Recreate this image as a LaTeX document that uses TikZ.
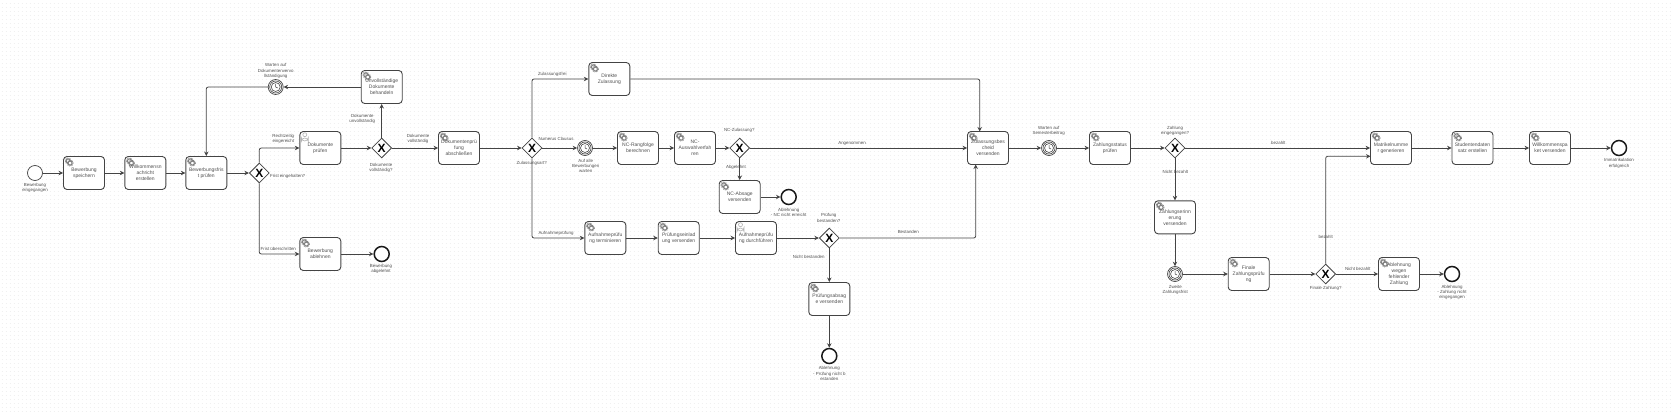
\documentclass[tikz,border=0pt]{standalone}
\usepackage{fontspec}
\setmainfont{Liberation Sans}
\usetikzlibrary{arrows.meta,shapes.geometric}
\definecolor{ink}{HTML}{444444}
\definecolor{word}{HTML}{505050}
\newcommand{\tasktext}{\fontsize{5pt}{6pt}\selectfont}
\newcommand{\labeltext}{\fontsize{4.4pt}{5.3pt}\selectfont}
\tikzstyle{griddot}=[black!6, line width=0.8pt, dash pattern=on 0.8pt off 3.2pt]
\tikzstyle{flow}=[draw=ink, line width=0.8pt, rounded corners=2pt, -{Stealth[length=4.5pt, width=4.5pt]}]
\tikzstyle{Task}=[rectangle, rounded corners=3.5pt, minimum width=41, minimum height=33, inner sep=0, align=center, draw=ink, line width=0.9pt, fill=white, text=word, font=\tasktext]
\tikzstyle{Service}=[Task, path picture={
    \foreach \gx/\gy in {4.6/4.4, 6.6/6.6} {
      \draw[gray, fill=white, line width=1pt] ([shift={(\gx,\gy)}]path picture bounding box.north west) circle (2);
      \draw[gray, line width=0.8pt, dash pattern=on 0.8pt off 0.8pt] ([shift={(\gx,\gy)}]path picture bounding box.north west) circle (3);
    }}]
\tikzstyle{User}=[Task, path picture={
    \draw[black!30, line width=0.6pt] ([shift={(5,3.2)}]path picture bounding box.north west) circle (2);
    \draw[black!30, line width=0.6pt] ([shift={(1.5,9.5)}]path picture bounding box.north west) -- ++(0,-3) -- ++(7,0) -- ++(0,3) -- cycle;
    }]
\tikzstyle{Gateway}=[diamond, aspect=1, minimum size=20, inner sep=0, draw=ink, line width=0.8pt, fill=white, font=\fontsize{12pt}{12pt}\selectfont\bfseries]
\tikzstyle{StartEv}=[circle, minimum size=15, inner sep=0, draw=ink, line width=0.7pt, fill=white]
\tikzstyle{EndEv}=[circle, minimum size=15, inner sep=0, draw=black!90, line width=1.5pt, fill=white]
\tikzstyle{Timer}=[circle, minimum size=15, inner sep=0, draw=ink, line width=0.7pt, fill=white, path picture={
    \draw[ink, line width=0.6pt] (path picture bounding box.center) circle (6);
    \draw[ink, line width=0.6pt] (path picture bounding box.center) circle (4.5);
    \draw[ink, line width=0.5pt] ([shift={(0,-3)}]path picture bounding box.center) -- (path picture bounding box.center) -- ++(2,1);
    }]
\tikzstyle{lab}=[inner sep=0, align=center, text=word, font=\labeltext]
\begin{document}
\begin{tikzpicture}[x=1pt, y=-1pt]
    \useasboundingbox (0,0) rectangle (1672,417);
    \foreach \gy in {3.5,7.5,...,415} {
      \draw[griddot] (1.6,\gy) -- (1672,\gy);
    }
    \path
    (35,173) node[StartEv] (start) {}
    (84,173) node[Service] (save) {Bewerbung\\speichern}
    (145.3,173) node[Service] (welcome) {Willkommensn\\achricht\\erstellen}
    (206.3,173) node[Service] (deadline) {Bewerbungsfris\\t prüfen}
    (259.3,173) node[Gateway] (gwdeadline) {X}
    (320.3,148) node[User] (review) {Dokumente\\prüfen}
    (320.3,254) node[Service] (reject) {Bewerbung\\ablehnen}
    (381.7,254) node[EndEv] (endreject) {}
    (381.7,148) node[Gateway] (gwdocs) {X}
    (381.7,87) node[Service] (missing) {Unvollständige\\Dokumente\\behandeln}
    (275.7,87) node[Timer] (waitdocs) {}
    (459,148) node[Service] (finish) {Dokumentenprü\\fung\\abschließen}
    (532,148) node[Gateway] (gwtype) {X}
    (609.3,79) node[Service] (direct) {Direkte\\Zulassung}
    (585,148) node[Timer] (waitall) {}
    (638,148) node[Service] (rank) {NC-Rangfolge\\berechnen}
    (695,148) node[Service] (select) {NC-\\Auswahlverfah\\ren}
    (739.7,148) node[Gateway] (gwnc) {X}
    (739.7,197) node[Service] (ncletter) {NC-Absage\\versenden}
    (788.7,197) node[EndEv] (endnc) {}
    (605.3,238) node[Service] (schedule) {Aufnahmeprüfu\\ng terminieren}
    (678.7,238) node[Service] (invite) {Prüfungseinlad\\ung versenden}
    (756,238) node[User] (exam) {Aufnahmeprüfu\\ng durchführen}
    (829.3,238) node[Gateway] (gwexam) {X}
    (829.3,299) node[Service] (examletter) {Prüfungsabsag\\e versenden}
    (829.3,356) node[EndEv] (endexam) {}
    (988,148) node[Service] (notice) {Zulassungsbes\\cheid\\versenden}
    (1049,148) node[Timer] (waitfee) {}
    (1110,148) node[Service] (status) {Zahlungsstatus\\prüfen}
    (1175,148) node[Gateway] (gwpaid) {X}
    (1175,217.3) node[Service] (remind) {Zahlungserinn\\erung\\versenden}
    (1175,274) node[Timer] (waitsecond) {}
    (1248.7,274) node[Service] (final) {Finale\\Zahlungsprüfu\\ng}
    (1325.7,274) node[Gateway] (gwfinal) {X}
    (1399,274) node[Service] (nofee) {Ablehnung\\wegen\\fehlender\\Zahlung}
    (1452,274) node[EndEv] (endfee) {}
    (1391,148) node[Service] (matric) {Matrikelnumme\\r generieren}
    (1472.5,148) node[Service] (record) {Studentendaten\\satz erstellen}
    (1550,148) node[Service] (packet) {Willkommenspa\\ket versenden}
    (1619,148) node[EndEv] (enddone) {}
    coordinate[] (innotice) at (979.7,131.5)
    coordinate[] (inpassed) at (975.7,164.5)
    coordinate[] (inmatric) at (1370.5,156.3);

    % event and gateway captions
    \path
    (35,187.7) node[lab] (capstart) {Bewerbung\\eingegangen}
    (275.7,71) node[lab] (capwaitdocs) {Warten auf\\Dokumentenvervo\\llständigung}
    (283.3,139) node[lab] (capintime) {Rechtzeitig\\eingereicht}
    (287.7,176.3) node[lab] (capgwdeadline) {Frist eingehalten?}
    (278.3,249.3) node[lab] (caplate) {Frist überschritten}
    (362.3,119) node[lab] (capincomplete) {Dokumente\\unvollständig}
    (381,167.7) node[lab] (capgwdocs) {Dokumente\\vollständig?}
    (381,269) node[lab] (capreject) {Bewerbung\\abgelehnt}
    (418,139) node[lab] (capcomplete) {Dokumente\\vollständig}
    (552.3,74.3) node[lab] (capfree) {Zulassungsfrei}
    (556,139.3) node[lab] (capnc) {Numerus Clausus}
    (531.7,163) node[lab] (capgwtype) {Zulassungsart?}
    (585.7,166) node[lab] (capwaitall) {Auf alle\\Bewerbungen\\warten}
    (739.3,130.3) node[lab] (capgwnc) {NC-Zulassung?}
    (736,167.3) node[lab] (capdenied) {Abgelehnt}
    (852,143.3) node[lab] (capaccepted) {Angenommen}
    (556,233.3) node[lab] (capexam) {Aufnahmeprüfung}
    (788.7,212.3) node[lab] (capendnc) {Ablehnung\\- NC nicht erreicht}
    (828.7,218) node[lab] (capgwexam) {Prüfung\\bestanden?}
    (908.3,232.3) node[lab] (cappassed) {Bestanden}
    (808.7,257.3) node[lab] (capfailed) {Nicht bestanden}
    (829.3,373.7) node[lab] (capendexam) {Ablehnung\\- Prüfung nicht b\\estanden}
    (1048.7,130.7) node[lab] (capwaitfee) {Warten auf\\Semesterbeitrag}
    (1175,131) node[lab] (capgwpaid) {Zahlung\\eingegangen?}
    (1278.3,143.3) node[lab] (cappaid) {bezahlt}
    (1175.3,172) node[lab] (capunpaid) {Nicht bezahlt}
    (1175.3,289.7) node[lab] (capwaitsecond) {Zweite\\Zahlungsfrist}
    (1325.7,237.3) node[lab] (cappaidlate) {bezahlt}
    (1325.7,288.3) node[lab] (capgwfinal) {Finale Zahlung?}
    (1357.7,269.3) node[lab] (capunpaidlate) {Nicht bezahlt}
    (1619,163.3) node[lab] (capdone) {Immatrikulation\\erfolgreich}
    (1452,292.3) node[lab] (capendfee) {Ablehnung\\- Zahlung nicht\\eingegangen};

    \draw[flow] (start) -- (save);
    \draw[flow] (save) -- (welcome);
    \draw[flow] (welcome) -- (deadline);
    \draw[flow] (deadline) -- (gwdeadline);
    \draw[flow] (gwdeadline.north) |- (review.west);
    \draw[flow] (gwdeadline.south) |- (reject.west);
    \draw[flow] (reject) -- (endreject);
    \draw[flow] (review) -- (gwdocs);
    \draw[flow] (gwdocs) -- (missing);
    \draw[flow] (missing) -- (waitdocs);
    \draw[flow] (waitdocs.west) -| (deadline.north);
    \draw[flow] (gwdocs) -- (finish);
    \draw[flow] (finish) -- (gwtype);
    \draw[flow] (gwtype.north) |- (direct.west);
    \draw[flow] (gwtype) -- (waitall);
    \draw[flow] (gwtype.south) |- (schedule.west);
    \draw[flow] (waitall) -- (rank);
    \draw[flow] (rank) -- (select);
    \draw[flow] (select) -- (gwnc);
    \draw[flow] (gwnc) -- (ncletter);
    \draw[flow] (ncletter) -- (endnc);
    \draw[flow] (gwnc) -- (notice);
    \draw[flow] (schedule) -- (invite);
    \draw[flow] (invite) -- (exam);
    \draw[flow] (exam) -- (gwexam);
    \draw[flow] (gwexam) -- (examletter);
    \draw[flow] (examletter) -- (endexam);
    \draw[flow] (gwexam.east) -| (inpassed);
    \draw[flow] (direct.east) -| (innotice);
    \draw[flow] (notice) -- (waitfee);
    \draw[flow] (waitfee) -- (status);
    \draw[flow] (status) -- (gwpaid);
    \draw[flow] (gwpaid) -- (matric);
    \draw[flow] (gwpaid) -- (remind);
    \draw[flow] (remind) -- (waitsecond);
    \draw[flow] (waitsecond) -- (final);
    \draw[flow] (final) -- (gwfinal);
    \draw[flow] (gwfinal.north) |- (inmatric);
    \draw[flow] (gwfinal) -- (nofee);
    \draw[flow] (nofee) -- (endfee);
    \draw[flow] (matric) -- (record);
    \draw[flow] (record) -- (packet);
    \draw[flow] (packet) -- (enddone);
\end{tikzpicture}
\end{document}
